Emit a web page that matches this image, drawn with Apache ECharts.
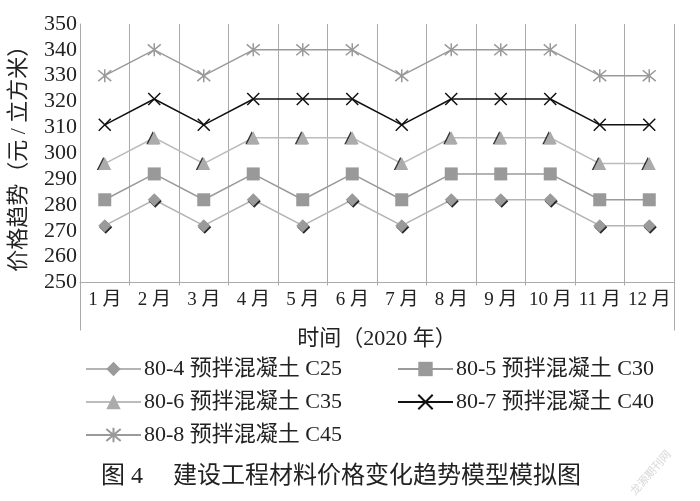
<!DOCTYPE html>
<html>
<head>
<meta charset="utf-8">
<script src="https://cdn.jsdelivr.net/npm/echarts@6/dist/echarts.min.js"></script>
<style>html,body{margin:0;padding:0;background:#fff}#c{width:700px;height:501px}</style>
</head>
<body>
<div id="c"></div>
<script>
var months = ['1 月','2 月','3 月','4 月','5 月','6 月','7 月','8 月','9 月','10 月','11 月','12 月'];
var c25 = [272,282,272,282,272,282,272,282,282,282,272,272];
var c30 = [282,292,282,292,282,292,282,292,292,292,282,282];
var c35 = [296,306,296,306,306,306,296,306,306,306,296,296];
var c40 = [311,321,311,321,321,321,311,321,321,321,311,311];
var c45 = [330,340,330,340,340,340,330,340,340,340,330,330];
var names = ['80-4 预拌混凝土 C25','80-5 预拌混凝土 C30','80-6 预拌混凝土 C35','80-7 预拌混凝土 C40','80-8 预拌混凝土 C45'];

var FONT = "'Liberation Serif','Noto Sans CJK SC',serif";
var chart = echarts.init(document.getElementById('c'), null, {renderer:'canvas'});
var crossPath = 'path://M0,0L10,10M10,0L0,10';
var starPath = 'path://M0,0L10,10M10,0L0,10M5,-1L5,11';

function mk(name, data, lineColor, lw, symbol, size, fill, border, shadow){
  var it = {color: fill};
  if (border) { it.borderColor = border; it.borderWidth = 1.5; }
  if (shadow) { it.shadowColor = shadow[0]; it.shadowOffsetX = shadow[1]; it.shadowOffsetY = shadow[2]; it.shadowBlur = 0; }
  return {
    name: name, type: 'line', data: data,
    symbol: symbol, symbolSize: size, showSymbol: true,
    lineStyle: {color: lineColor, width: lw},
    itemStyle: it,
    emphasis: {disabled: true},
    animation: false
  };
}

var legendText = {fontFamily: FONT, fontSize: 22, color: '#222', lineHeight: 22, padding: [0,0,0,-2]};

var option = {
  animation: false,
  textStyle: {fontFamily: FONT},
  grid: {left: 73, right: 26, top: 24, bottom: 218.5, containLabel: false},
  title: {
    text: '图 4　 建设工程材料价格变化趋势模型模拟图',
    left: 96, top: 460,
    textStyle: {fontFamily: FONT, fontSize: 24, fontWeight: 'normal', color: '#222'}
  },
  legend: [
    {
      data: [names[0], names[2], names[4]],
      orient: 'vertical', left: 80, top: 353,
      itemWidth: 55, itemHeight: 18, itemGap: 11,
      textStyle: legendText,
      selectedMode: false
    },
    {
      data: [names[1], names[3]],
      orient: 'vertical', left: 392, top: 353,
      itemWidth: 55, itemHeight: 18, itemGap: 11,
      textStyle: legendText,
      selectedMode: false
    }
  ],
  xAxis: [
    {
      type: 'category', data: months, boundaryGap: true,
      name: '时间（2020 年）', nameLocation: 'middle', nameGap: 46,
      nameTextStyle: {fontFamily: FONT, fontSize: 22, color: '#222'},
      axisLine: {show: true, lineStyle: {color: '#aaa', width: 1}},
      axisTick: {show: true, interval: 0, length: 3, lineStyle: {color: '#aaa'}},
      axisLabel: {interval: 0, fontFamily: FONT, fontSize: 19, color: '#222', margin: 8},
      splitLine: {show: true, interval: 0, lineStyle: {color: '#aaa', width: 1}}
    },
    {
      type: 'value', min: 0, max: 1, interval: 1, position: 'bottom', gridIndex: 0,
      axisLine: {show: false},
      axisTick: {show: true, length: 48, lineStyle: {color: '#aaa'}},
      axisLabel: {show: false},
      splitLine: {show: true, lineStyle: {color: '#aaa'}}
    }
  ],
  yAxis: {
    type: 'value', min: 250, max: 350, interval: 10,
    name: '价格趋势（元 / 立方米）', nameLocation: 'middle', nameGap: 50, nameRotate: 90,
    nameTextStyle: {fontFamily: FONT, fontSize: 22, color: '#222'},
    axisLine: {show: true, lineStyle: {color: '#aaa', width: 1}},
    axisTick: {show: false},
    axisLabel: {fontFamily: FONT, fontSize: 22, color: '#222', margin: 3},
    splitLine: {show: false}
  },
  graphic: [
    {
      type: 'text', left: 628, top: 448, rotation: Math.PI * 0.27,
      style: {text: '龙源期刊网', fill: '#d8d8d8', font: '11px "Noto Sans CJK SC"'}
    }
  ],
  series: [
    mk(names[0], c25, '#b4b4b4', 1.5, 'diamond', 13, '#9a9a9a', null, ['rgba(0,0,0,0.85)', 1, 1.5]),
    mk(names[1], c30, '#9a9a9a', 1.5, 'rect', 13, '#999999', null, null),
    mk(names[2], c35, '#bcbcbc', 1.5, 'triangle', 13, '#ababab', null, ['rgba(0,0,0,0.8)', -1.5, 0]),
    mk(names[3], c40, '#111111', 1.5, crossPath, 12, 'none', '#111111', null),
    mk(names[4], c45, '#9a9a9a', 1.5, starPath, 13, 'none', '#999999', null)
  ]
};
chart.setOption(option);
</script>
</body>
</html>
